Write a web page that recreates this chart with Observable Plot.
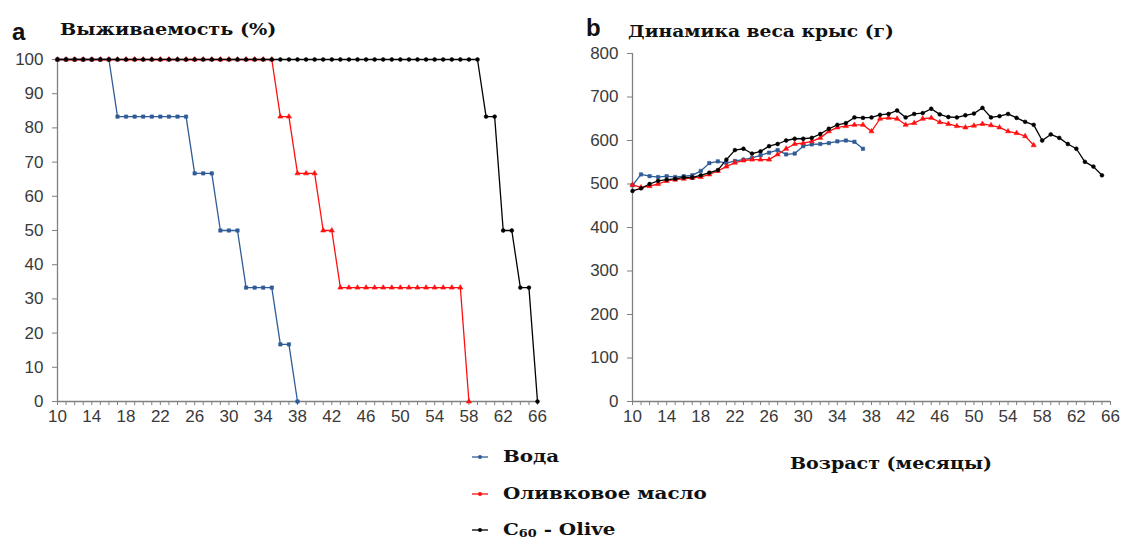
<!DOCTYPE html>
<html>
<head>
<meta charset="utf-8">
<script src="https://cdn.jsdelivr.net/npm/d3@7"></script>
<script src="https://cdn.jsdelivr.net/npm/@observablehq/plot@0.6"></script>
<style>
  html, body { margin: 0; padding: 0; background: #fff; }
  #wrap { position: relative; width: 1125px; height: 539px; overflow: hidden; background: #fff; }
  .abs { position: absolute; white-space: nowrap; line-height: 1; }
  .ser { font-family: "DejaVu Serif", serif; font-weight: bold; color: #111; transform-origin: 0 50%; }
  .pl { font-family: "Liberation Sans", Arial, sans-serif; font-weight: bold; color: #111; }
  #left, #right { position: absolute; top: 40px; }
  #left { left: 0px; }
  #right { left: 575px; }
</style>
</head>
<body>
<div id="wrap">
  <div class="abs pl" style="left:12px;top:20px;font-size:24px;">a</div>
  <div class="abs ser" style="left:60px;top:21px;font-size:17px;transform:scaleX(1.13);">Выживаемость (%)</div>
  <div class="abs pl" style="left:586px;top:16px;font-size:24px;">b</div>
  <div class="abs ser" style="left:628px;top:23px;font-size:17px;transform:scaleX(1.10);">Динамика веса крыс (г)</div>
  <div class="abs ser" style="left:790px;top:455px;font-size:17px;transform:scaleX(1.12);">Возраст (месяцы)</div>
  <div id="left"></div>
  <div id="right"></div>
  <div id="legend"></div>
</div>
<script>
// ---------- Data ----------
const seriesNames = ["Вода", "Оливковое масло", "C60 - Olive"];
const seriesColors = ["#2f5b97", "#ff1010", "#000000"];

// Survival (%) — panel a
const survWaterMonths = [10,11,12,13,14,15,16,17,18,19,20,21,22,23,24,25,26,27,28,29,30,31,32,33,34,35,36,37,38];
const survWater = [100,100,100,100,100,100,100,83.3,83.3,83.3,83.3,83.3,83.3,83.3,83.3,83.3,66.7,66.7,66.7,50,50,50,33.3,33.3,33.3,33.3,16.7,16.7,0];
const survOilMonths = [10,11,12,13,14,15,16,17,18,19,20,21,22,23,24,25,26,27,28,29,30,31,32,33,34,35,36,37,38,39,40,41,42,43,44,45,46,47,48,49,50,51,52,53,54,55,56,57,58];
const survOil = [100,100,100,100,100,100,100,100,100,100,100,100,100,100,100,100,100,100,100,100,100,100,100,100,100,100,83.3,83.3,66.7,66.7,66.7,50,50,33.3,33.3,33.3,33.3,33.3,33.3,33.3,33.3,33.3,33.3,33.3,33.3,33.3,33.3,33.3,0];
const survC60Months = [10,11,12,13,14,15,16,17,18,19,20,21,22,23,24,25,26,27,28,29,30,31,32,33,34,35,36,37,38,39,40,41,42,43,44,45,46,47,48,49,50,51,52,53,54,55,56,57,58,59,60,61,62,63,64,65,66];
const survC60 = [100,100,100,100,100,100,100,100,100,100,100,100,100,100,100,100,100,100,100,100,100,100,100,100,100,100,100,100,100,100,100,100,100,100,100,100,100,100,100,100,100,100,100,100,100,100,100,100,100,100,83.3,83.3,50,50,33.3,33.3,0];

// Body weight (g) — panel b
const wWaterMonths = [10,11,12,13,14,15,16,17,18,19,20,21,22,23,24,25,26,27,28,29,30,31,32,33,34,35,36,37];
const wWater = [497,522,518,516,518,516,518,520,530,548,552,548,553,556,560,566,572,578,568,570,587,591,592,594,598,600,597,581];
const wOilMonths = [10,11,12,13,14,15,16,17,18,19,20,21,22,23,24,25,26,27,28,29,30,31,32,33,34,35,36,37,38,39,40,41,42,43,44,45,46,47,48,49,50,51,52,53,54,55,56,57];
const wOil = [498,492,495,500,507,510,512,514,516,522,530,540,549,554,556,556,556,568,581,592,594,598,606,621,630,633,636,636,621,650,652,650,636,640,650,652,642,638,633,630,634,638,635,630,621,617,610,589];
const wC60Months = [10,11,12,13,14,15,16,17,18,19,20,21,22,23,24,25,26,27,28,29,30,31,32,33,34,35,36,37,38,39,40,41,42,43,44,45,46,47,48,49,50,51,52,53,54,55,56,57,58,59,60,61,62,63,64,65];
const wC60 = [484,490,500,507,510,512,515,515,520,526,532,556,578,581,570,575,587,592,600,604,604,606,615,627,636,640,653,652,653,659,661,669,653,661,663,673,660,654,653,658,662,675,653,656,661,652,643,636,600,614,606,592,581,551,540,520];

// Axis ticks
const monthTicks = [10,11,12,13,14,15,16,17,18,19,20,21,22,23,24,25,26,27,28,29,30,31,32,33,34,35,36,37,38,39,40,41,42,43,44,45,46,47,48,49,50,51,52,53,54,55,56,57,58,59,60,61,62,63,64,65,66];
const monthLabels = [10,14,18,22,26,30,34,38,42,46,50,54,58,62,66];
const survTicks = [0,10,20,30,40,50,60,70,80,90,100];
const weightTicks = [0,100,200,300,400,500,600,700,800];

// ---------- Build tables ----------
function rows(months, vals, s) { return months.map((m, i) => ({month: m, value: vals[i], series: s})); }
const survData = [
  ...rows(survWaterMonths, survWater, seriesNames[0]),
  ...rows(survOilMonths, survOil, seriesNames[1]),
  ...rows(survC60Months, survC60, seriesNames[2])
];
const weightData = [
  ...rows(wWaterMonths, wWater, seriesNames[0]),
  ...rows(wOilMonths, wOil, seriesNames[1]),
  ...rows(wC60Months, wC60, seriesNames[2])
];
const colorScale = {domain: seriesNames, range: seriesColors};
const symbolScale = {domain: seriesNames, range: ["square", "triangle", "circle"]};
const fmtMonth = d => monthLabels.includes(d) ? String(d) : "";
const axisColor = "#808080";

function panel(data, yDomain, yTicks, opts) {
  return Plot.plot({
    width: opts.width, height: 400,
    marginLeft: opts.ml, marginRight: opts.mr, marginTop: opts.mt, marginBottom: 39,
    x: {domain: [10, 66]},
    y: {domain: yDomain},
    color: colorScale,
    symbol: symbolScale,
    style: {fontFamily: "'Liberation Sans', Arial, sans-serif", fontSize: "17px", color: "#3a3a3a", background: "transparent", overflow: "visible"},
    marks: [
      Plot.axisY({ticks: yTicks, tickSize: 5, tickPadding: 9, stroke: axisColor, label: null}),
      Plot.axisX({ticks: monthTicks, tickFormat: fmtMonth, tickSize: 4, tickPadding: 4, stroke: axisColor, label: null}),
      Plot.ruleX([10], {stroke: axisColor, strokeWidth: 1.3}),
      Plot.ruleY([yDomain[0]], {stroke: axisColor, strokeWidth: 1.3}),
      Plot.line(data, {x: "month", y: "value", z: "series", stroke: "series", strokeWidth: 1.3}),
      Plot.dot(data, {x: "month", y: "value", fill: "series", stroke: "series", symbol: "series", r: 1.9, strokeWidth: 0.6})
    ]
  });
}

document.getElementById("left").appendChild(
  panel(survData, [0, 100], survTicks, {width: 560, ml: 57, mr: 23, mt: 19})
);
document.getElementById("right").appendChild(
  panel(weightData, [0, 800], weightTicks, {width: 550, ml: 57, mr: 15, mt: 13})
);

// ---------- Legend ----------
const legend = document.getElementById("legend");
const legendTops = [448, 485, 521];
seriesNames.forEach((name, i) => {
  const sw = document.createElement("div");
  sw.className = "abs";
  sw.style.left = "470px";
  sw.style.top = (legendTops[i] + 4) + "px";
  sw.innerHTML = `<svg width="20" height="10" style="display:block"><line x1="2" y1="5" x2="18" y2="5" stroke="${seriesColors[i]}" stroke-width="1.3"/><circle cx="10" cy="5" r="2" fill="${seriesColors[i]}"/></svg>`;
  legend.appendChild(sw);
  const row = document.createElement("div");
  row.className = "abs ser";
  row.style.left = "503px";
  row.style.top = legendTops[i] + "px";
  row.style.fontSize = "17px";
  row.style.transform = "scaleX(1.17)";
  row.innerHTML = name === "C60 - Olive"
    ? `C<span style="font-size:11px;position:relative;top:2px">60</span> - Olive`
    : name;
  legend.appendChild(row);
});
</script>
</body>
</html>
